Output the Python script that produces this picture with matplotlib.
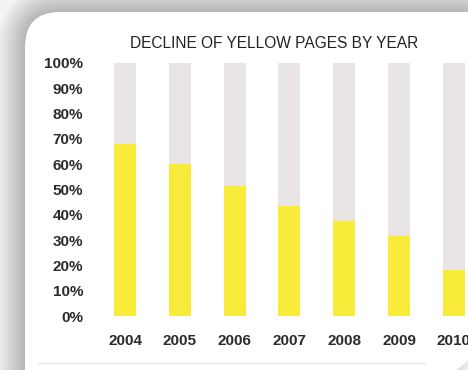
import matplotlib.pyplot as plt
from matplotlib.path import Path
from matplotlib.patches import PathPatch

# data
years = ["2004", "2005", "2006", "2007", "2008", "2009", "2010"]
yellow_share = [68, 60, 51.5, 43.5, 37.5, 31.5, 18]
total = [100] * len(years)
yticks = list(range(0, 101, 10))

YELLOW = "#f8eb3a"
GREY = "#e9e5e7"
TEXT = "#2b2b2b"

fig = plt.figure(figsize=(4.68, 3.7), dpi=100)
fig.patch.set_facecolor("#f3f3f3")

# ── background card (pixel coordinates, y pointing down) ─────────
bg = fig.add_axes([0, 0, 1, 1], zorder=-1)
bg.set_xlim(0, 468)
bg.set_ylim(370, 0)
bg.axis("off")

r1, r2 = 35, 60
verts = [(200, 12), (480, 12), (480, 378 - r2), (480, 378), (480 - r2, 378),
         (25, 378), (25, 12 + r1), (25, 12), (25 + r1, 12), (200, 12)]
codes = [Path.MOVETO, Path.LINETO, Path.LINETO, Path.CURVE3, Path.CURVE3,
         Path.LINETO, Path.LINETO, Path.CURVE3, Path.CURVE3, Path.CLOSEPOLY]
card = Path(verts, codes)
# soft shadow: many thin translucent strokes
for lw in range(40, 0, -2):
    bg.add_patch(PathPatch(card, facecolor="none", edgecolor="black",
                           lw=lw, alpha=0.011, joinstyle="round"))
bg.add_patch(PathPatch(card, facecolor="white", edgecolor="none"))
bg.plot([38, 425], [363, 363], color="#e4e4e4", lw=0.8)

# ── chart ─────────────────────────────────────────────────────────
ax = fig.add_axes([90 / 468, 54 / 370, 378 / 468, 253 / 370])
ax.set_facecolor("none")
x = list(range(len(years)))
ax.bar(x, total, width=0.4, color=GREY, zorder=1)
ax.bar(x, yellow_share, width=0.4, color=YELLOW, zorder=2)

ax.set_xlim(-0.639, 6.259)
ax.set_ylim(0, 100)
ax.set_yticks(yticks)
ax.set_yticklabels([f"{t}%" for t in yticks])
ax.set_xticks(x)
ax.set_xticklabels(years)
for s in ax.spines.values():
    s.set_visible(False)
ax.tick_params(axis="both", length=0, colors=TEXT)
ax.tick_params(axis="y", pad=5)
ax.tick_params(axis="x", pad=13)
for lab in ax.get_xticklabels() + ax.get_yticklabels():
    lab.set_fontfamily("Liberation Sans")
    lab.set_fontweight("bold")
    lab.set_fontsize(11)

fig.text(274 / 468, 1 - 43 / 370, "DECLINE OF YELLOW PAGES BY YEAR",
         ha="center", va="center", fontsize=11.2, color="#222222",
         family="Liberation Sans")

fig.savefig("out.png", dpi=100)
